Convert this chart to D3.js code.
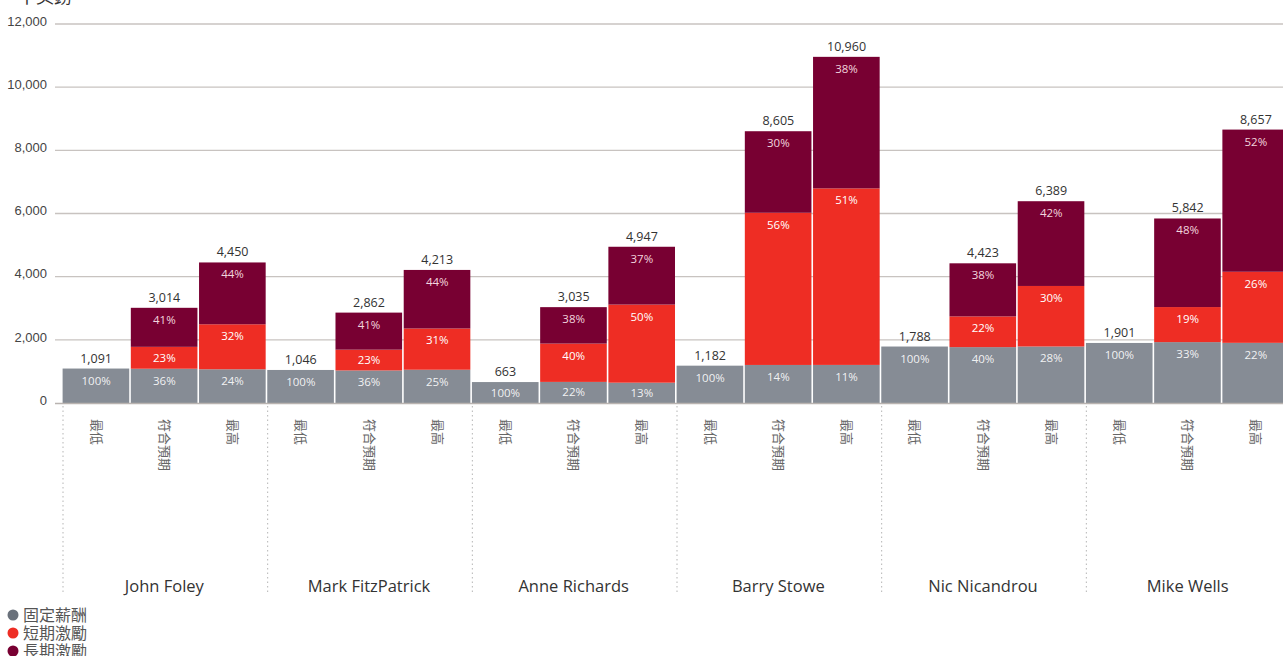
<!DOCTYPE html>
<html>
<head>
<meta charset="utf-8">
<script src="https://cdn.jsdelivr.net/npm/d3@7"></script>
<style>
  html, body { margin: 0; padding: 0; background: #fff; overflow: hidden; }
  svg { display: block; font-family: "Open Sans", "Noto Sans CJK TC", sans-serif; }
</style>
</head>
<body>
<svg id="chart" width="1283" height="656"></svg>
<script>
// Executive remuneration scenarios (£000)
const people = ["John Foley", "Mark FitzPatrick", "Anne Richards", "Barry Stowe", "Nic Nicandrou", "Mike Wells"];
const scenarios = ["最低", "符合預期", "最高"];
const totals = [1091, 3014, 4450, 1046, 2862, 4213, 663, 3035, 4947, 1182, 8605, 10960, 1788, 4423, 6389, 1901, 5842, 8657];
const fixedPct = [100, 36, 24, 100, 36, 25, 100, 22, 13, 100, 14, 11, 100, 40, 28, 100, 33, 22];
const shortPct = [0, 23, 32, 0, 23, 31, 0, 40, 50, 0, 56, 51, 0, 22, 30, 0, 19, 26];
const longPct = [0, 41, 44, 0, 41, 44, 0, 38, 37, 0, 30, 38, 0, 38, 42, 0, 48, 52];
const seriesNames = ["固定薪酬", "短期激勵", "長期激勵"];
const yTicks = [0, 2000, 4000, 6000, 8000, 10000, 12000];
const unitLabel = "千英鎊";

const colors = ["#868c95", "#ee2d24", "#780032"];
const legendColors = ["#6a717b", "#ee2d24", "#780032"];

const svg = d3.select("#chart");
const plotLeft = 62, plotRight = 1290, plotTop = 24, plotBottom = 403;

const rows = totals.map((t, i) => ({
  key: i,
  person: people[Math.floor(i / 3)],
  scenario: scenarios[i % 3],
  total: t,
  pcts: [fixedPct[i], shortPct[i], longPct[i]]
}));

const x = d3.scaleBand().domain(rows.map(d => d.key)).range([plotLeft, plotRight]).paddingInner(0);
const gx = d3.scaleBand().domain(people).range([plotLeft, plotRight]);
const y = d3.scaleLinear().domain([0, 12000]).range([plotBottom, plotTop]);

// gridlines + y axis labels
const yAxis = d3.axisLeft(y).tickValues(yTicks).tickSize(0).tickPadding(0)
  .tickFormat(d3.format(","));
const ya = svg.append("g").attr("transform", `translate(47,0)`).call(yAxis);
ya.select(".domain").remove();
ya.selectAll("text").attr("font-size", 13).attr("fill", "#444").attr("dy", "0.1em");

svg.append("g").selectAll("line").data(yTicks.filter(d => d > 0)).join("line")
  .attr("x1", 55).attr("x2", 1283)
  .attr("y1", d => y(d)).attr("y2", d => y(d))
  .attr("stroke", "#c8c3c0").attr("stroke-width", 1.3);

// group separators
svg.append("g").selectAll("line").data(people).join("line")
  .attr("x1", d => gx(d) + 1).attr("x2", d => gx(d) + 1)
  .attr("y1", 406).attr("y2", 592)
  .attr("stroke", "#b5b5b5").attr("stroke-width", 1).attr("stroke-dasharray", "1.5,3");

// stacked segments
const segs = [];
rows.forEach(r => {
  let acc = 0;
  r.pcts.forEach((p, s) => {
    if (p > 0) {
      const v = r.total * p / 100;
      segs.push({ r, s, p, y0: acc, y1: acc + v });
      acc += v;
    }
  });
});

const bw = x.bandwidth();
svg.append("g").selectAll("rect").data(segs).join("rect")
  .attr("x", d => x(d.r.key) + 0.6)
  .attr("width", bw - 1.6)
  .attr("y", d => y(d.y1))
  .attr("height", d => y(d.y0) - y(d.y1))
  .attr("fill", d => colors[d.s]);

// baseline
svg.append("line").attr("x1", 55).attr("x2", 1283).attr("y1", plotBottom + 0.5).attr("y2", plotBottom + 0.5)
  .attr("stroke", "#b9b3b0").attr("stroke-width", 1.5);

// percentage labels
svg.append("g").selectAll("text").data(segs).join("text")
  .attr("x", d => x(d.r.key) + bw / 2)
  .attr("y", d => {
    const h = y(d.y0) - y(d.y1);
    return y(d.y1) + Math.min(h / 2 + 4, 16);
  })
  .attr("text-anchor", "middle")
  .attr("font-size", 11.5)
  .attr("fill", d => d.s === 2 ? "#f2d5de" : "#ffffff")
  .attr("fill-opacity", d => d.s === 0 ? 0.9 : 1)
  .text(d => d.p + "%");

// total labels
svg.append("g").selectAll("text").data(rows).join("text")
  .attr("x", d => x(d.key) + bw / 2)
  .attr("y", d => y(d.total) - 6)
  .attr("text-anchor", "middle")
  .attr("font-size", 12.5)
  .attr("fill", "#333")
  .text(d => d3.format(",")(d.total));

// scenario labels (rotated)
svg.append("g").selectAll("text").data(rows).join("text")
  .attr("transform", d => `translate(${x(d.key) + bw / 2 - 4.5},419) rotate(90)`)
  .attr("font-size", 13)
  .attr("fill", "#666")
  .attr("font-family", "Noto Sans CJK TC")
  .text(d => d.scenario);

// person labels
svg.append("g").selectAll("text").data(people).join("text")
  .attr("x", d => gx(d) + gx.bandwidth() / 2)
  .attr("y", 592)
  .attr("text-anchor", "middle")
  .attr("font-size", 16.5)
  .attr("fill", "#333")
  .text(d => d);

// unit label (partially above the frame)
svg.append("text").attr("x", 18).attr("y", 3).attr("font-size", 18).attr("fill", "#333")
  .attr("font-family", "Noto Sans CJK TC").text(unitLabel);

// legend
const lg = svg.append("g").selectAll("g").data(seriesNames).join("g")
  .attr("transform", (d, i) => `translate(0,${614 + i * 18})`);
lg.append("circle").attr("cx", 13).attr("cy", 1).attr("r", 5.5).attr("fill", (d, i) => legendColors[i]);
lg.append("text").attr("x", 23).attr("y", 7).attr("font-size", 16).attr("fill", "#555")
  .attr("font-family", "Noto Sans CJK TC").text(d => d);
</script>
</body>
</html>
